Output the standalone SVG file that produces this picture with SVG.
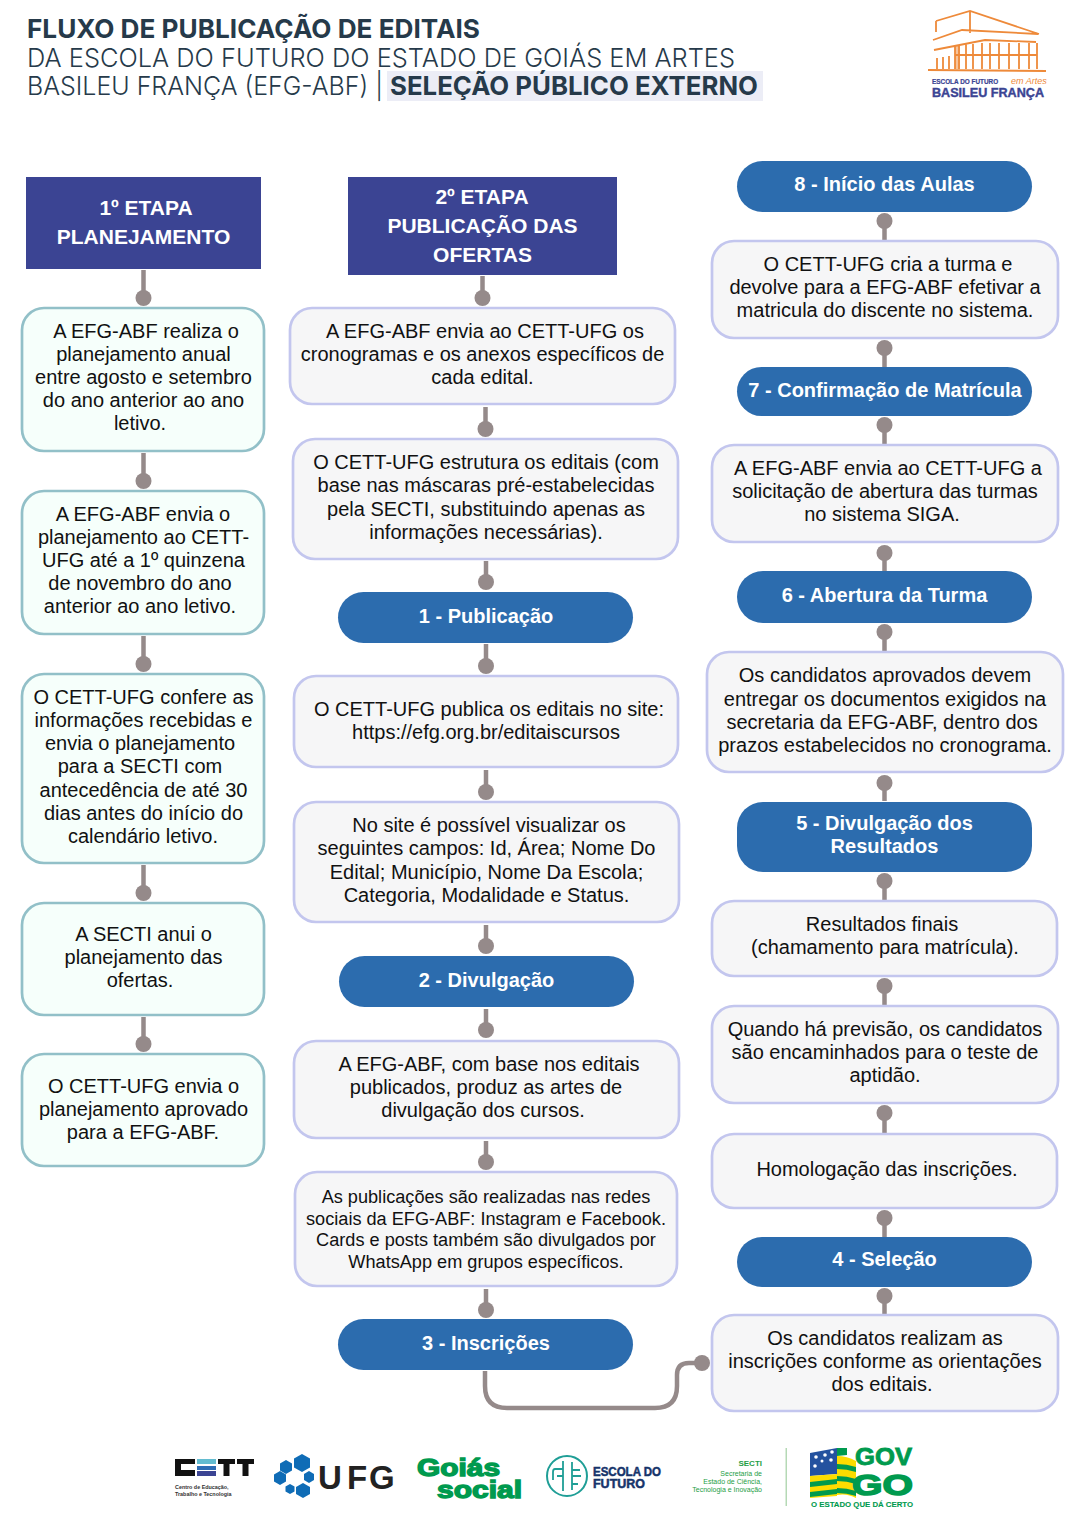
<svg xmlns="http://www.w3.org/2000/svg" width="1080" height="1528" viewBox="0 0 1080 1528">
<style>
text{font-family:"Liberation Sans",Arial,sans-serif}
.t{font-size:20px;fill:#111;text-anchor:middle}
.s{font-size:18.15px;fill:#111;text-anchor:middle}
.h{font-size:21px;font-weight:700;fill:#fff;text-anchor:middle}
.p{font-size:20px;font-weight:700;fill:#fff;text-anchor:middle}
.title{font-family:"Inter","Open Sans",sans-serif;font-size:26px;fill:#263a4a}
.b{font-weight:700}
.head{fill:#3b4493}
.green{fill:#f6fffb;stroke:#92c0c8;stroke-width:2.7}
.grey{fill:#f6f6f7;stroke:#c3c6ee;stroke-width:2.7}
.pill{fill:#2c6cae}
#connectors path{fill:none;stroke:#958a8a;stroke-width:4.5}
#connectors circle{fill:#958a8a}
.org{fill:none;stroke:#ee8a3a;stroke-width:1.8}
.logoG{font-weight:700;fill:#009a4e;stroke:#009a4e}
</style>

<g id="title">
<rect x="387" y="71" width="376" height="30" fill="#ecedf6"/>
<text class="title b" x="27" y="38" textLength="453" lengthAdjust="spacingAndGlyphs">FLUXO DE PUBLICAÇÃO DE EDITAIS</text>
<text class="title" x="27" y="67" textLength="708" lengthAdjust="spacingAndGlyphs" font-weight="300">DA ESCOLA DO FUTURO DO ESTADO DE GOIÁS EM ARTES</text>
<text class="title" x="27" y="95" textLength="356" lengthAdjust="spacingAndGlyphs" font-weight="300">BASILEU FRANÇA (EFG-ABF) |</text>
<text class="title b" x="390" y="95" textLength="368" lengthAdjust="spacingAndGlyphs">SELEÇÃO PÚBLICO EXTERNO</text>
</g>

<g id="logo-efg">
<path class="org" d="M936 21L970 11L1039 34M936 21V32M970 11V33M933 40L962 30L1038 34M934 50L985 40L1036 42M928 70L1046 71M937 58V69M943 57V69M949 56V69M955 46V69M959 46V69M966 44V69M973 44V69M982 43V69M990 43V69M999 43V69M1009 43V69M1019 43V69M1029 43V69M1037 43V69M955 55H1037"/>
<path d="M955 46h5v23h-5z" fill="#ee8a3a" fill-opacity=".5"/>
<text x="932" y="84" font-size="6.4" font-weight="700" fill="#3b4493" stroke="#3b4493" stroke-width=".2">ESCOLA DO FUTURO</text>
<text x="1011" y="84" font-size="9" font-style="italic" fill="#ee8a3a" font-family="Liberation Serif,serif">em Artes</text>
<text x="932" y="97" font-size="12.6" font-weight="700" fill="#3b4493" stroke="#3b4493" stroke-width=".4" textLength="112" lengthAdjust="spacingAndGlyphs">BASILEU FRANÇA</text>
</g>

<g id="connectors">
<path d="M143.500 270V298"/><circle cx="143.500" cy="298" r="8"/>
<path d="M143.500 453V481"/><circle cx="143.500" cy="481" r="8"/>
<path d="M143.500 636V664"/><circle cx="143.500" cy="664" r="8"/>
<path d="M143.500 865V893"/><circle cx="143.500" cy="893" r="8"/>
<path d="M143.500 1017V1044"/><circle cx="143.500" cy="1044" r="8"/>

<path d="M482.500 276V298"/><circle cx="482.500" cy="298" r="8"/>
<path d="M485.500 407V429"/><circle cx="485.500" cy="429" r="8"/>
<path d="M486 561V582"/><circle cx="486" cy="582" r="8"/>
<path d="M486 644V666"/><circle cx="486" cy="666" r="8"/>
<path d="M486 770V792"/><circle cx="486" cy="792" r="8"/>
<path d="M486 925V946"/><circle cx="486" cy="946" r="8"/>
<path d="M486 1009V1030"/><circle cx="486" cy="1030" r="8"/>
<path d="M486 1141V1162"/><circle cx="486" cy="1162" r="8"/>
<path d="M486 1289V1310"/><circle cx="486" cy="1310" r="8"/>
<path d="M485 1371V1386Q485 1408 507 1408H655Q677 1408 677 1386V1375Q677 1363 689 1363H702"/><circle cx="702" cy="1363" r="8"/>

<path d="M884.500 240V221"/><circle cx="884.500" cy="221" r="8"/>
<path d="M884.500 367V348"/><circle cx="884.500" cy="348" r="8"/>
<path d="M884.500 444V425"/><circle cx="884.500" cy="425" r="8"/>
<path d="M884.500 571V553"/><circle cx="884.500" cy="553" r="8"/>
<path d="M884.500 651V632"/><circle cx="884.500" cy="632" r="8"/>
<path d="M884.500 801V783"/><circle cx="884.500" cy="783" r="8"/>
<path d="M884.500 900V881"/><circle cx="884.500" cy="881" r="8"/>
<path d="M884.500 1005V986"/><circle cx="884.500" cy="986" r="8"/>
<path d="M884.500 1133V1113"/><circle cx="884.500" cy="1113" r="8"/>
<path d="M884.500 1237V1218"/><circle cx="884.500" cy="1218" r="8"/>
<path d="M884.500 1314V1296"/><circle cx="884.500" cy="1296" r="8"/>
</g>

<g id="etapa1"><rect class="head" x="26" y="177" width="235" height="92"/><text class="h" x="146" y="215">1º ETAPA</text><text class="h" x="143.500" y="244">PLANEJAMENTO</text></g>
<g id="n1-1"><rect class="green" x="22" y="308" width="242" height="143" rx="22"/><text class="t" x="146" y="338">A EFG-ABF realiza o</text><text class="t" x="143.500" y="361">planejamento anual</text><text class="t" x="143.500" y="384">entre agosto e setembro</text><text class="t" x="143.500" y="407">do ano anterior ao ano</text><text class="t" x="140" y="430">letivo.</text></g>
<g id="n1-2"><rect class="green" x="22" y="491" width="242" height="143" rx="22"/><text class="t" x="143" y="521">A EFG-ABF envia o</text><text class="t" x="143.500" y="544">planejamento ao CETT-</text><text class="t" x="143.500" y="567">UFG até a 1º quinzena</text><text class="t" x="140" y="590">de novembro do ano</text><text class="t" x="140" y="613">anterior ao ano letivo.</text></g>
<g id="n1-3"><rect class="green" x="22" y="674" width="242" height="189" rx="22"/><text class="t" x="143.500" y="704">O CETT-UFG confere as</text><text class="t" x="143.500" y="727">informações recebidas e</text><text class="t" x="140" y="750">envia o planejamento</text><text class="t" x="140" y="773">para a SECTI com</text><text class="t" x="143.500" y="797">antecedência de até 30</text><text class="t" x="143.500" y="820">dias antes do início do</text><text class="t" x="143" y="843">calendário letivo.</text></g>
<g id="n1-4"><rect class="green" x="22" y="903" width="242" height="112" rx="22"/><text class="t" x="143.500" y="941">A SECTI anui o</text><text class="t" x="143.500" y="964">planejamento das</text><text class="t" x="140" y="987">ofertas.</text></g>
<g id="n1-5"><rect class="green" x="22" y="1054" width="242" height="112" rx="22"/><text class="t" x="143.500" y="1093">O CETT-UFG envia o</text><text class="t" x="143.500" y="1116">planejamento aprovado</text><text class="t" x="143" y="1139">para a EFG-ABF.</text></g>

<g id="etapa2"><rect class="head" x="348" y="177" width="269" height="98"/><text class="h" x="482" y="204">2º ETAPA</text><text class="h" x="482.500" y="233">PUBLICAÇÃO DAS</text><text class="h" x="482.500" y="262">OFERTAS</text></g>
<g id="n2-1"><rect class="grey" x="290" y="308" width="385" height="96" rx="22"/><text class="t" x="485" y="338">A EFG-ABF envia ao CETT-UFG os</text><text class="t" x="482.500" y="361">cronogramas e os anexos específicos de</text><text class="t" x="482.500" y="384">cada edital.</text></g>
<g id="n2-2"><rect class="grey" x="293" y="439" width="385" height="120" rx="22"/><text class="t" x="486" y="469">O CETT-UFG estrutura os editais (com</text><text class="t" x="486" y="492">base nas máscaras pré-estabelecidas</text><text class="t" x="486" y="516">pela SECTI, substituindo apenas as</text><text class="t" x="486" y="539">informações necessárias).</text></g>
<g id="p1"><rect class="pill" x="338" y="592" width="295" height="51" rx="25.500"/><text class="p" x="486" y="623">1 - Publicação</text></g>
<g id="n2-3"><rect class="grey" x="294" y="676" width="384" height="91" rx="22"/><text class="t" x="489" y="716">O CETT-UFG publica os editais no site:</text><text class="t" x="486" y="739">https://efg.org.br/editaiscursos</text></g>
<g id="n2-4"><rect class="grey" x="294" y="802" width="385" height="120" rx="22"/><text class="t" x="489" y="832">No site é possível visualizar os</text><text class="t" x="486.500" y="855">seguintes campos: Id, Área; Nome Do</text><text class="t" x="486.500" y="879">Edital; Município, Nome Da Escola;</text><text class="t" x="486.500" y="902">Categoria, Modalidade e Status.</text></g>
<g id="p2"><rect class="pill" x="339" y="956" width="295" height="51" rx="25.500"/><text class="p" x="486.500" y="987">2 - Divulgação</text></g>
<g id="n2-5"><rect class="grey" x="294" y="1041" width="385" height="97" rx="22"/><text class="t" x="489" y="1071">A EFG-ABF, com base nos editais</text><text class="t" x="486" y="1094">publicados, produz as artes de</text><text class="t" x="483" y="1117">divulgação dos cursos.</text></g>
<g id="n2-6"><rect class="grey" x="295" y="1172" width="382" height="114" rx="22"/><text class="s" x="486" y="1203">As publicações são realizadas nas redes</text><text class="s" x="486" y="1224.500">sociais da EFG-ABF: Instagram e Facebook.</text><text class="s" x="486" y="1246">Cards e posts também são divulgados por</text><text class="s" x="486" y="1267.500">WhatsApp em grupos específicos.</text></g>
<g id="p3"><rect class="pill" x="338" y="1319" width="295" height="51" rx="25.500"/><text class="p" x="486" y="1350">3 - Inscrições</text></g>

<g id="p8"><rect class="pill" x="737" y="161" width="295" height="51" rx="25.500"/><text class="p" x="884.500" y="191">8 - Início das Aulas</text></g>
<g id="n3-1"><rect class="grey" x="712" y="241" width="346" height="97" rx="22"/><text class="t" x="888" y="271">O CETT-UFG cria a turma e</text><text class="t" x="885" y="294">devolve para a EFG-ABF efetivar a</text><text class="t" x="885" y="317">matricula do discente no sistema.</text></g>
<g id="p7"><rect class="pill" x="737" y="367" width="295" height="49" rx="24.500"/><text class="p" x="885" y="397">7 - Confirmação de Matrícula</text></g>
<g id="n3-2"><rect class="grey" x="712" y="445" width="346" height="97" rx="22"/><text class="t" x="888" y="475">A EFG-ABF envia ao CETT-UFG a</text><text class="t" x="885" y="498">solicitação de abertura das turmas</text><text class="t" x="882" y="521">no sistema SIGA.</text></g>
<g id="p6"><rect class="pill" x="737" y="571" width="295" height="52" rx="26"/><text class="p" x="884.500" y="602">6 - Abertura da Turma</text></g>
<g id="n3-3"><rect class="grey" x="707" y="652" width="356" height="120" rx="22"/><text class="t" x="885" y="682">Os candidatos aprovados devem</text><text class="t" x="885" y="706">entregar os documentos exigidos na</text><text class="t" x="882" y="729">secretaria da EFG-ABF, dentro dos</text><text class="t" x="885" y="752">prazos estabelecidos no cronograma.</text></g>
<g id="p5"><rect class="pill" x="737" y="802" width="295" height="70" rx="26"/><text class="p" x="884.500" y="830">5 - Divulgação dos</text><text class="p" x="884.500" y="853">Resultados</text></g>
<g id="n3-4"><rect class="grey" x="712" y="901" width="345" height="75" rx="22"/><text class="t" x="882" y="931">Resultados finais</text><text class="t" x="885" y="954">(chamamento para matrícula).</text></g>
<g id="n3-5"><rect class="grey" x="712" y="1006" width="346" height="97" rx="22"/><text class="t" x="885" y="1036">Quando há previsão, os candidatos</text><text class="t" x="885" y="1059">são encaminhados para o teste de</text><text class="t" x="885" y="1082">aptidão.</text></g>
<g id="n3-6"><rect class="grey" x="712" y="1134" width="345" height="74" rx="22"/><text class="t" x="887" y="1176">Homologação das inscrições.</text></g>
<g id="p4"><rect class="pill" x="737" y="1237" width="295" height="50" rx="25"/><text class="p" x="884.500" y="1266">4 - Seleção</text></g>
<g id="n3-7"><rect class="grey" x="712" y="1315" width="346" height="96" rx="22"/><text class="t" x="885" y="1345">Os candidatos realizam as</text><text class="t" x="885" y="1368">inscrições conforme as orientações</text><text class="t" x="882" y="1391">dos editais.</text></g>

<g id="logo-cett">
<path d="M175 1459h20v5h-14v6h14v6h-20z" fill="#111"/>
<rect x="197" y="1459" width="19" height="5" fill="#63bcd0"/><rect x="197" y="1466" width="19" height="4" fill="#2e6db4"/><rect x="197" y="1471" width="19" height="5" fill="#3b4493"/>
<path d="M218 1459h17v5h-5.500v12h-6v-12h-5.500zM237 1459h17v5h-5.500v12h-6v-12h-5.500z" fill="#111"/>
<text x="175" y="1489" font-size="5.400" font-weight="700" fill="#333">Centro de Educação,</text>
<text x="175" y="1496" font-size="5.400" font-weight="700" fill="#333">Trabalho e Tecnologia</text>
</g>
<g id="logo-ufg" fill="#0f6cb6">
<path d="M302 1454l8 4.500v9l-8 4.500l-8-4.500v-9z"/><path d="M286 1460l6 3.500v7l-6 3.500l-6-3.500v-7z"/><path d="M280 1471l6 3.500v7l-6 3.500l-6-3.500v-7z"/><path d="M309 1471l5 3v6l-5 3l-5-3v-6z"/><path d="M303 1483l7 4v7l-7 4l-7-4v-7z"/><path d="M290 1484l4.500 2.500v5l-4.500 2.500l-4.500-2.500v-5z"/>
<text x="318 347 369" y="1489" font-size="33" font-weight="700" fill="#222" font-family="Open Sans,sans-serif">UFG</text>
</g>
<g id="logo-goias">
<text class="logoG" x="417" y="1476" font-size="24" stroke-width="1.400" textLength="83" lengthAdjust="spacingAndGlyphs">Goiás</text>
<text class="logoG" x="437" y="1498" font-size="24" stroke-width="1.400" textLength="85" lengthAdjust="spacingAndGlyphs">social</text>
</g>
<g id="logo-escola">
<circle cx="567" cy="1476" r="20" fill="none" stroke="#1f9e96" stroke-width="2"/>
<path d="M563 1461v30M563 1469h-8q-2 0-2 3v8M563 1476h-6M572 1462v28M572 1470h8M572 1476h9M572 1484h6" fill="none" stroke="#1f9e96" stroke-width="1.800"/>
<text x="593" y="1476" font-size="13" font-weight="700" fill="#16346b" stroke="#16346b" stroke-width=".5" textLength="68" lengthAdjust="spacingAndGlyphs">ESCOLA DO</text>
<text x="593" y="1488" font-size="13" font-weight="700" fill="#16346b" stroke="#16346b" stroke-width=".5" textLength="52" lengthAdjust="spacingAndGlyphs">FUTURO</text>
</g>
<g id="logo-secti" fill="#1e9e45" text-anchor="end">
<text x="762" y="1466" font-size="8" font-weight="700">SECTI</text>
<text x="762" y="1476" font-size="7">Secretaria de</text>
<text x="762" y="1484" font-size="7">Estado de Ciência,</text>
<text x="762" y="1492" font-size="7">Tecnologia e Inovação</text>
</g>
<rect x="785.500" y="1448" width="1.500" height="58" fill="#b5d9b5"/>
<g id="logo-gov">
<path d="M810 1453l27-5v26l-27 2z" fill="#24529f"/>
<path d="M810 1476l27-2v22l-27 2z" fill="#fddc00"/>
<path d="M810 1482l27-3v5l-27 3zM810 1492l27-3v5l-27 3z" fill="#009a4e"/>
<path d="M837 1456q10 0 19 5v37q-9-5-19-3z" fill="#fddc00"/>
<path d="M837 1448h10v7l-10 1zM837 1464q10 0 19 3v5q-9-3-19-3zM837 1476q10 0 19 3v5q-9-3-19-3zM837 1488q10 0 19 3v5q-9-3-19-3z" fill="#009a4e"/>
<g fill="#fff"><circle cx="816" cy="1457" r="1.800"/><circle cx="825" cy="1455" r="1.800"/><circle cx="832" cy="1452" r="1.800"/><circle cx="822" cy="1461" r="1.500"/><circle cx="831" cy="1460" r="1.800"/><circle cx="815" cy="1466" r="1.800"/></g>
<text class="logoG" x="855" y="1465" font-size="23" stroke-width=".8" textLength="57" lengthAdjust="spacingAndGlyphs">GOV</text>
<text class="logoG" x="852" y="1495" font-size="30" stroke-width="1.500" textLength="61" lengthAdjust="spacingAndGlyphs">GO</text>
<text class="logoG" x="811" y="1507" font-size="8" stroke-width=".1" textLength="102" lengthAdjust="spacingAndGlyphs">O ESTADO QUE DÁ CERTO</text>
</g>
</svg>
